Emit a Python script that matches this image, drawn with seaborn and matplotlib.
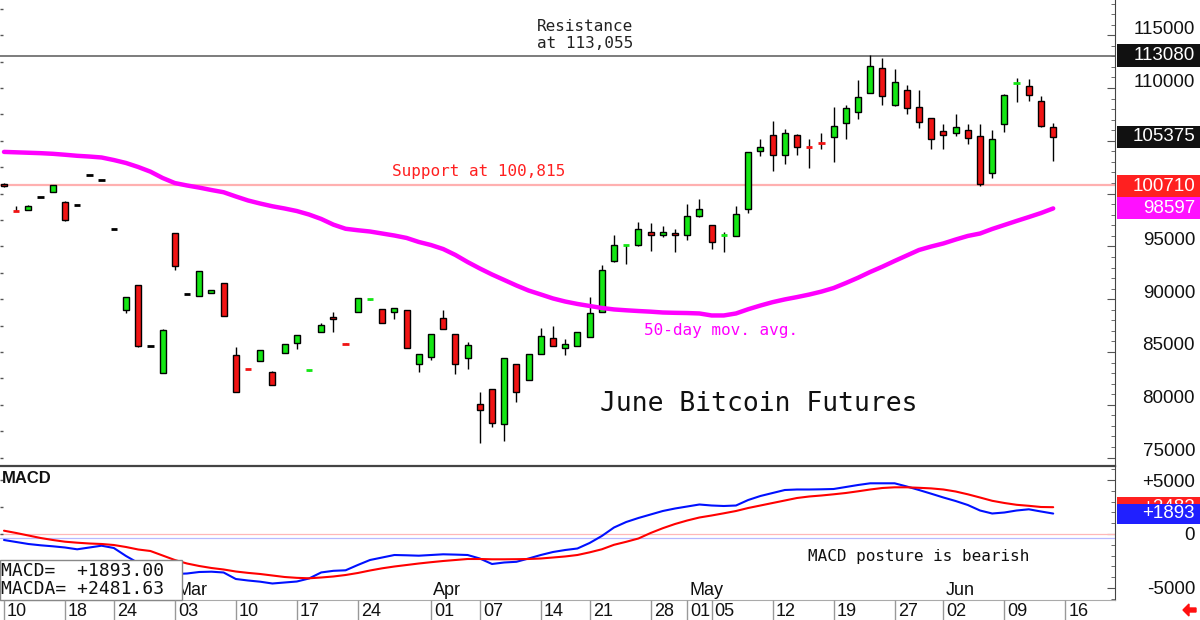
import numpy as np
import pandas as pd
import matplotlib
matplotlib.use('Agg')
from matplotlib import pyplot as plt
from matplotlib.patches import Rectangle, FancyArrow
from matplotlib.ticker import MultipleLocator
from matplotlib.transforms import ScaledTranslation
import seaborn as sns

# exchange calendar (CME holidays in the window)
holidays = ['2025-02-17', '2025-04-18', '2025-05-26']
first_day = '2025-02-10'
last_day = '2025-06-13'

# daily OHLC, June Bitcoin futures
opens = [100950, 98380, 98450, 99710, 100120, 99230, 98950, 101730, 101320, 96680,
         88980, 91350, 85600, 83040, 96240, 90470, 90330, 90590, 91510, 84690,
         83420, 84180, 83080, 84880, 85820, 83200, 86920, 88350, 85815, 88820,
         89960, 89040, 88790, 88950, 83860, 84500, 88250, 86680, 84430, 80080,
         81530, 78210, 83840, 82350, 84810, 86330, 85350, 85600, 86450, 88760,
         93650, 95100, 95110, 96390, 96110, 96240, 96050, 97910, 97030, 96020,
         96010, 98510, 104010, 105520, 103680, 105520, 104510, 104880, 105390, 106660,
         107700, 109560, 111870, 108390, 109780, 108170, 107130, 105930, 105710, 106000,
         105430, 101980, 106620, 110380, 110160, 108800, 106340]
highs = [101000, 98830, 98920, 99710, 100790, 99300, 98950, 101730, 101320, 96680,
         90180, 91350, 85600, 87150, 96300, 90470, 92700, 90870, 91510, 85500,
         83420, 85160, 83200, 85790, 86580, 83260, 87700, 88820, 85815, 90090,
         90020, 89040, 89140, 88950, 84840, 86710, 88980, 86680, 85980, 81240,
         81530, 84460, 83840, 84840, 87270, 87460, 86200, 86920, 90180, 93240,
         96110, 95160, 97280, 97190, 96970, 96620, 99020, 99490, 97030, 96340,
         98830, 103940, 105200, 106900, 106120, 105600, 105200, 105710, 108230, 108390,
         110760, 113080, 112840, 111770, 110260, 109810, 107130, 106590, 107510, 106590,
         106590, 106000, 109400, 110950, 110830, 109270, 106660]
lows = [100600, 98330, 98450, 99710, 100120, 97400, 98950, 101730, 101320, 96680,
        88670, 85500, 85600, 83000, 92770, 90470, 90330, 90590, 88440, 81180,
        83360, 84180, 81880, 84880, 85310, 83200, 86920, 86870, 85755, 88820,
        89960, 87770, 88100, 85350, 83110, 84240, 87210, 82890, 83420, 76410,
        77870, 76570, 80270, 82350, 84810, 85540, 84690, 85600, 86450, 88760,
        93490, 93310, 95000, 94570, 95920, 94500, 95580, 97800, 94750, 94500,
        96000, 98190, 103590, 102110, 102830, 103660, 102450, 104200, 103020, 105200,
        107070, 109500, 108360, 108300, 107510, 106210, 104250, 104200, 105460, 104670,
        100710, 101510, 105810, 108700, 108800, 106300, 103120]
closes = [100700, 98330, 98830, 99710, 100790, 97500, 98950, 101730, 101320, 96680,
          90180, 85600, 85600, 87080, 93170, 90470, 92700, 90870, 88440, 81180,
          83360, 85160, 81880, 85790, 86580, 83260, 87560, 88150, 85755, 90090,
          90020, 87770, 89140, 85350, 84840, 86710, 87210, 83840, 85690, 79480,
          78280, 84460, 81180, 84840, 86540, 85540, 85760, 86920, 88670, 92790,
          95160, 95160, 96680, 96110, 96390, 96050, 97880, 98510, 95390, 96080,
          98040, 103940, 104410, 103680, 105710, 104440, 104450, 104820, 106430, 108060,
          109180, 112060, 109220, 110570, 108110, 106810, 105140, 105550, 106340, 105240,
          100950, 105140, 109370, 110440, 109310, 106370, 105375]
ma50 = [103950, 103910, 103870, 103830, 103770, 103680, 103580, 103510, 103420, 103180,
        102900, 102520, 102080, 101480, 101000, 100770, 100570, 100340, 100130, 99730,
        99350, 99060, 98800, 98590, 98350, 98020, 97600, 97060, 96670, 96530,
        96410, 96220, 96030, 95800, 95420, 95130, 94750, 94190, 93520, 92910,
        92340, 91820, 91300, 90820, 90450, 90070, 89780, 89550, 89360, 89170,
        89030, 88950, 88880, 88820, 88740, 88710, 88690, 88650, 88460, 88460,
        88650, 89050, 89400, 89720, 89980, 90200, 90440, 90720, 91060, 91530,
        92030, 92580, 93080, 93620, 94140, 94660, 94990, 95280, 95650, 95990,
        96220, 96650, 97030, 97410, 97780, 98160, 98597]
macd = [-556, -741, -926, -1046, -1139, -1250, -1417, -1250, -1083, -1296,
        -2037, -2685, -3056, -3426, -3704, -3658, -3519, -3491, -3565, -4167,
        -4306, -4417, -4584, -4491, -4400, -4120, -3560, -3410, -3361, -2870,
        -2408, -2176, -1945, -1972, -2009, -1945, -1880, -1908, -1945, -2269,
        -2778, -2639, -2574, -2269, -1945, -1667, -1482, -1343, -833, -185,
        602, 1111, 1482, 1806, 2130, 2361, 2547, 2732, 2639, 2593,
        2639, 3148, 3519, 3797, 4074, 4121, 4121, 4139, 4167, 4352,
        4537, 4695, 4695, 4695, 4399, 4074, 3732, 3380, 3056, 2685,
        2176, 1898, 1991, 2176, 2287, 2084, 1893]
macda = [306, 93, -139, -370, -556, -713, -806, -880, -926, -1019,
         -1204, -1435, -1574, -1990, -2408, -2732, -2963, -3148, -3287, -3473,
         -3600, -3704, -3843, -3982, -4060, -4102, -4028, -3935, -3797, -3611,
         -3380, -3176, -3010, -2871, -2732, -2611, -2500, -2408, -2315, -2315,
         -2343, -2343, -2333, -2315, -2269, -2176, -2080, -1945, -1700, -1417,
         -1000, -722, -417, 93, 537, 926, 1250, 1528, 1713, 1917,
         2130, 2408, 2639, 2871, 3102, 3334, 3473, 3565, 3676, 3797,
         3954, 4121, 4260, 4324, 4324, 4278, 4223, 4121, 3936, 3676,
         3380, 3074, 2871, 2704, 2611, 2500, 2482]

tick_dates = ['2025-02-10', '2025-02-18', '2025-02-24', '2025-03-03', '2025-03-10',
              '2025-03-17', '2025-03-24', '2025-04-01', '2025-04-07', '2025-04-14',
              '2025-04-21', '2025-04-28', '2025-05-01', '2025-05-05', '2025-05-12',
              '2025-05-19', '2025-05-27', '2025-06-02', '2025-06-09', '2025-06-16']
tick_labels = ['10', '18', '24', '03', '10', '17', '24', '01', '07', '14',
               '21', '28', '01', '05', '12', '19', '27', '02', '09', '16']
month_dates = ['2025-03-03', '2025-04-01', '2025-05-01', '2025-06-02']
month_labels = ['Mar', 'Apr', 'May', 'Jun']

price_ticks = [75000, 80000, 85000, 90000, 95000, 100000, 105000, 110000, 115000]
# 100000 and 105000 sit under the value boxes
price_tick_labels = ['75000', '80000', '85000', '90000', '95000', '', '', '110000', '115000']
macd_ticks = [-5000, 0, 5000]
macd_tick_labels = ['-5000', '0', '+5000']

resistance = 113055
support = 100815
price_marks = [113080, 105375, 100710, 98597]
price_mark_colors = ['#111111', '#111111', '#ff2020', '#ff10ff']
macd_marks = [2481.63, 1893.00]
macd_mark_colors = ['#ff2020', '#2020ff']


def day_index(d):
    return np.busday_count(first_day, np.array(d, dtype='datetime64[D]'), holidays=holidays)


dates = pd.bdate_range(first_day, last_day, freq='C', holidays=holidays)
df = pd.DataFrame({'date': dates, 'open': opens, 'high': highs, 'low': lows,
                   'close': closes, 'ma50': ma50, 'macd': macd, 'macda': macda})
df['day'] = day_index(df['date'].values.astype('datetime64[D]'))

sns.set_style('white')
plt.rcParams['font.family'] = ['Liberation Sans', 'DejaVu Sans']
mono = 'DejaVu Sans Mono'

W, H = 1200, 620
plot_w = 1115
x0, step = 4, 12.2
xlim = (-x0 / step, (plot_w - x0) / step)

fig = plt.figure(figsize=(12, 6.2), dpi=100)
ax = fig.add_axes([0, 154 / H, plot_w / W, 466 / H])
mx = fig.add_axes([0, 20 / H, plot_w / W, 134 / H])
dx = fig.add_axes([0, 0, plot_w / W, 20 / H])

# ---- price panel ----
ax.set_xlim(*xlim)
ax.set_ylim(74204, 118335)

green, red = '#14e614', '#f01414'
ax.vlines(df['day'], df['low'], df['high'], color='black', lw=1, zorder=2)
diff = df['close'] - df['open']
flat = diff.abs() < 100
body = df[~flat]
ax.bar(body['day'], (body['close'] - body['open']).abs(),
       bottom=np.minimum(body['open'], body['close']), width=0.5,
       color=np.where(body['close'] > body['open'], green, red),
       edgecolor='black', linewidth=1, zorder=3)
dash = df[flat]
dash_col = np.where(dash['close'] > dash['open'], green,
                    np.where(dash['close'] < dash['open'], red, 'black'))
ax.hlines(dash['close'], dash['day'] - 0.27, dash['day'] + 0.27,
          colors=dash_col, lw=2, zorder=3)

sns.lineplot(data=df, x='day', y='ma50', ax=ax, color='#ff00ff', lw=3.2, zorder=4)

ax.axhline(resistance, color='#666666', lw=1.2, zorder=1)
ax.axhline(support, color='#ffb0b0', lw=1.6, zorder=1)

ax.text(47.6, 115050, 'Resistance\nat 113,055', ha='center', va='center',
        family=mono, fontsize=11.5, color='#222222', linespacing=1.15)
ax.text(31.8, 102100, 'Support at 100,815', ha='left', va='center',
        family=mono, fontsize=11.5, color='#ff2020')
ax.text(52.5, 87080, '50-day mov. avg.', ha='left', va='center',
        family=mono, fontsize=11.5, color='#ff00ff')
ax.text(48.85, 80100, 'June Bitcoin Futures', ha='left', va='center',
        family=mono, fontsize=19, color='#111111')

ax.set_xlabel('')
ax.set_ylabel('')
ax.set_xticks([])
ax.yaxis.tick_right()
ax.set_yticks(price_ticks)
ax.yaxis.set_minor_locator(MultipleLocator(1000))
ax.tick_params(axis='y', which='both', direction='in', right=True, left=False,
               labelright=False, color='#555555')
ax.tick_params(axis='y', which='major', length=6)
ax.tick_params(axis='y', which='minor', length=3)
# price labels sit a little above their ticks in the reference
lift = ax.get_yaxis_transform() + ScaledTranslation(0, 0.06, fig.dpi_scale_trans)
for v, t in zip(price_ticks, price_tick_labels):
    if t:
        ax.text(1.0 + 80 / plot_w, v, t, transform=lift, ha='right', va='center',
                fontsize=13.5, color='#111111', clip_on=False)
ax.hlines(np.arange(75000, 118000, 2500), 0, 3 / plot_w,
          transform=ax.get_yaxis_transform(), color='#555555', lw=1)
for s in ['top', 'left', 'bottom']:
    ax.spines[s].set_visible(False)
ax.spines['right'].set_color('#444444')


def value_box(a, value, text, face, height, size=13.5, clip_top=None):
    tr = a.get_yaxis_transform()
    a.add_patch(Rectangle((1.0 + 2 / plot_w, value - height / 2), 85 / plot_w, height,
                          transform=tr, facecolor=face, edgecolor='none',
                          clip_on=False, zorder=5))
    t = a.text(1.0 + 80 / plot_w, value, text, transform=tr, ha='right', va='center',
               color='white', fontsize=size, clip_on=False, zorder=6)
    if clip_top is not None:
        # only the strip above the box that covers it stays visible
        vis = Rectangle((1.0, clip_top), 90 / plot_w, value + height / 2 - clip_top,
                        transform=tr)
        t.set_clip_path(vis)
        t.set_clip_on(True)


for v, c in zip(price_marks, price_mark_colors):
    value_box(ax, v, str(v), c, 2090)

# ---- MACD panel ----
mx.set_xlim(*xlim)
mx.set_ylim(-6112, 6297)
mx.axhline(0, color='#ffb8b8', lw=0.9, zorder=1)
mx.axhline(-340, color='#b8b8ff', lw=0.9, zorder=1)
sns.lineplot(data=df, x='day', y='macd', ax=mx, color='#0010ff', lw=1.5, zorder=3)
sns.lineplot(data=df, x='day', y='macda', ax=mx, color='#ff0000', lw=1.5, zorder=3)
mx.set_xlabel('')
mx.set_ylabel('')
mx.set_xticks([])
mx.yaxis.tick_right()
mx.set_yticks(macd_ticks)
mx.set_yticklabels(macd_tick_labels)
mx.yaxis.set_minor_locator(MultipleLocator(1000))
mx.tick_params(axis='y', which='both', direction='in', right=True, left=False,
               color='#555555', labelcolor='#111111')
mx.tick_params(axis='y', which='major', length=6, pad=57.6, labelsize=13.5)
mx.tick_params(axis='y', which='minor', length=3)
for lab in mx.get_yticklabels():
    lab.set_ha('right')
mx.hlines(np.arange(-5000, 5001, 2500), 0, 3 / plot_w,
          transform=mx.get_yaxis_transform(), color='#555555', lw=1)
mx.spines['left'].set_visible(False)
mx.spines['top'].set_color('#444444')
mx.spines['top'].set_linewidth(1.6)
mx.spines['right'].set_color('#444444')
mx.spines['bottom'].set_color('#aaaaaa')

box_h = 1850
value_box(mx, macd_marks[0], '%+d' % round(macd_marks[0]), macd_mark_colors[0], box_h,
          clip_top=macd_marks[1] + box_h / 2)
value_box(mx, macd_marks[1], '%+d' % round(macd_marks[1]), macd_mark_colors[1], box_h)

mx.text(2 / plot_w, 0.903, 'MACD', transform=mx.transAxes, ha='left', va='center',
        fontsize=12, fontweight='bold', color='#111111')
mx.text(65.9, -2130, 'MACD posture is bearish', ha='left', va='center',
        family=mono, fontsize=11.5, color='#111111')
for d, m in zip(day_index(month_dates), month_labels):
    mx.text(d + 0.15, -5278, m, ha='left', va='center', fontsize=13, color='#111111')

mx.add_patch(Rectangle((0, 0), 182 / plot_w, 40 / 134, transform=mx.transAxes,
                       facecolor='white', edgecolor='#888888', lw=1,
                       clip_on=False, zorder=7))
mx.text(1 / plot_w, 29 / 134, 'MACD=  %+.2f' % macd_marks[1], transform=mx.transAxes,
        ha='left', va='center', family=mono, fontsize=13, color='#111111', zorder=8)
mx.text(1 / plot_w, 11 / 134, 'MACDA= %+.2f' % macd_marks[0], transform=mx.transAxes,
        ha='left', va='center', family=mono, fontsize=13, color='#111111', zorder=8)

# ---- date strip ----
dx.set_xlim(*xlim)
dx.set_ylim(0, 1)
dx.axis('off')
tick_pos = day_index(tick_dates)
dx.vlines(tick_pos, 0, 1, color='#999999', lw=1)
for p, t in zip(tick_pos, tick_labels):
    dx.text(p + 0.25, 0.45, t, ha='left', va='center', fontsize=13, color='#111111')

fig.add_artist(FancyArrow(1196 / W, 10 / H, -13 / W, 0, width=4 / H,
                          head_width=12 / H, head_length=6 / W,
                          length_includes_head=True, color='#ff1010',
                          transform=fig.transFigure))

fig.savefig('out.png', dpi=100)
